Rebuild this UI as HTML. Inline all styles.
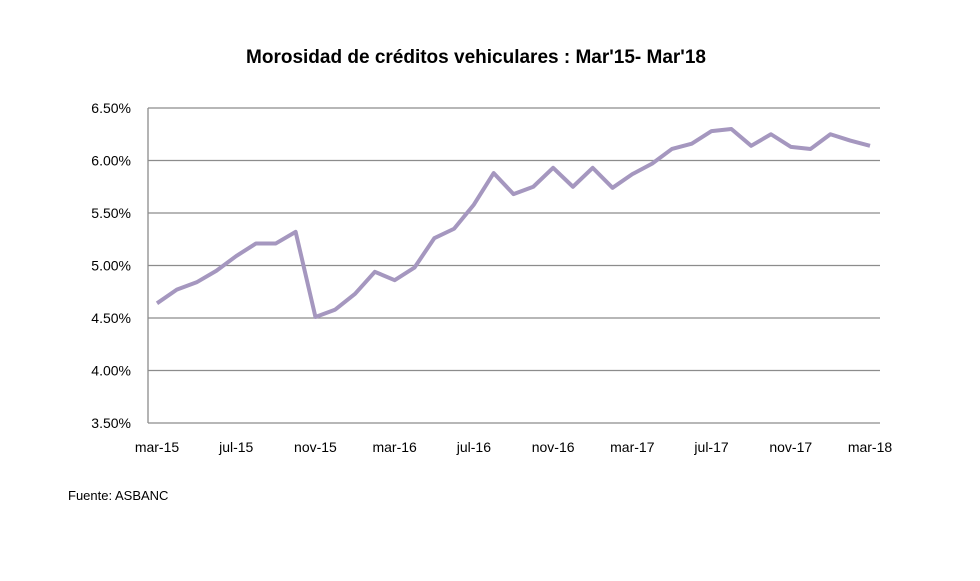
<!DOCTYPE html>
<html><head><meta charset="utf-8"><style>
body{margin:0;background:#fff;font-family:"Liberation Sans",sans-serif;}
</style></head><body>
<svg width="980" height="576" viewBox="0 0 980 576" xmlns="http://www.w3.org/2000/svg">
<text x="476" y="63" text-anchor="middle" font-size="19" font-weight="bold" fill="#000">Morosidad de créditos vehiculares : Mar'15- Mar'18</text>
<g id="grid"></g><g id="yt"></g><g id="xt"></g><g id="series"></g>
<text x="68" y="500" font-size="13" fill="#000">Fuente: ASBANC</text>
</svg>
<script>
const months=["mar-15","abr-15","may-15","jun-15","jul-15","ago-15","sep-15","oct-15","nov-15","dic-15","ene-16","feb-16","mar-16","abr-16","may-16","jun-16","jul-16","ago-16","sep-16","oct-16","nov-16","dic-16","ene-17","feb-17","mar-17","abr-17","may-17","jun-17","jul-17","ago-17","sep-17","oct-17","nov-17","dic-17","ene-18","feb-18","mar-18"];
const values=[4.64,4.77,4.84,4.95,5.09,5.21,5.21,5.32,4.51,4.58,4.73,4.94,4.86,4.98,5.26,5.35,5.58,5.88,5.68,5.75,5.93,5.75,5.93,5.74,5.87,5.97,6.11,6.16,6.28,6.30,6.14,6.25,6.13,6.11,6.25,6.19,6.14];
const yTicks=[3.5,4.0,4.5,5.0,5.5,6.0,6.5];
const NS="http://www.w3.org/2000/svg";
const x0=157,x1=870,pl=148,pr=880,yb=423,yt=108;
const X=i=>x0+(x1-x0)*i/(months.length-1);
const Y=v=>yb-(v-3.5)/(6.5-3.5)*(yb-yt);
function mk(t,a,p){const e=document.createElementNS(NS,t);for(const k in a)e.setAttribute(k,a[k]);p.appendChild(e);return e;}
const g=document.getElementById('grid'),gy=document.getElementById('yt'),gx=document.getElementById('xt'),gs=document.getElementById('series');
yTicks.forEach(v=>{
 const l=mk('line',{x1:pl,x2:pr,y1:Y(v),y2:Y(v),stroke:'#8c8c8c','stroke-width':1.3},g);
 
 
 const t=mk('text',{x:131,y:Y(v)+5,'text-anchor':'end','font-size':14,fill:'#000'},gy);
 t.textContent=v.toFixed(2)+'%';
 
 
});
const ax=mk('line',{x1:pl,x2:pl,y1:yt,y2:yb,stroke:'#8c8c8c','stroke-width':1.3},g);


months.forEach((m,i)=>{if(i%4)return;
 const t=mk('text',{x:X(i),y:452,'text-anchor':'middle','font-size':14,fill:'#000'},gx);
 t.textContent=m;
 
 
});
const p=mk('polyline',{points:values.map((v,i)=>X(i)+','+Y(v)).join(' '),fill:'none',stroke:'#a597bf','stroke-width':4,'stroke-linejoin':'round'},gs);


</script>
</body></html>
